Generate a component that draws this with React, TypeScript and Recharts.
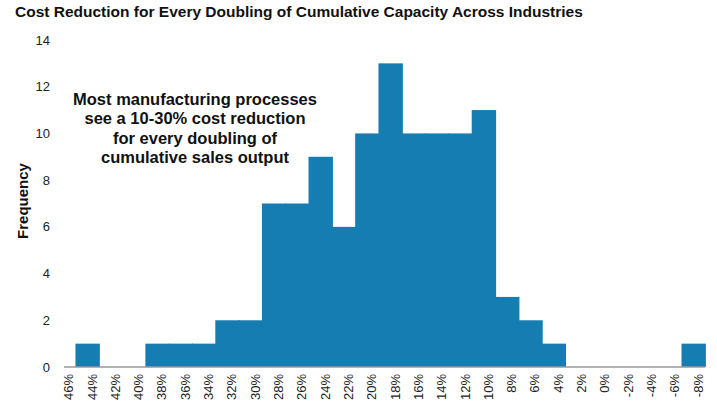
import { BarChart, Bar, XAxis, YAxis } from "recharts";

// bin edges shown on the x axis, highest reduction first
const edgeLabels = [
  "46%", "44%", "42%", "40%", "38%", "36%", "34%", "32%", "30%", "28%",
  "26%", "24%", "22%", "20%", "18%", "16%", "14%", "12%", "10%", "8%",
  "6%", "4%", "2%", "0%", "-2%", "-4%", "-6%", "-8%",
];

// number of industries in each 2% bin (46–44% ... -6–-8%)
const binCounts = [
  1, 0, 0, 1, 1, 1, 2, 2, 7, 7, 9, 6, 10, 13, 10, 10, 10, 11, 3, 2, 1, 0, 0, 0,
  0, 0, 1,
];

const yTicks = [0, 2, 4, 6, 8, 10, 12, 14];

const noteLines = [
  "Most manufacturing processes",
  "see a 10-30% cost reduction",
  "for every doubling of",
  "cumulative sales output",
];

const data = binCounts.map((count, i) => ({
  bin: `${edgeLabels[i]} to ${edgeLabels[i + 1]}`,
  count,
}));

const FONT = "'Liberation Sans', Arial, Helvetica, sans-serif";
const BLUE = "#167DB2";

function edgeText(x: number, y: number, label: string) {
  return (
    <text
      key={label}
      x={x}
      y={y}
      transform={`rotate(-90, ${x}, ${y})`}
      textAnchor="end"
      dy={-2.4}
      fontSize={13}
      fontFamily={FONT}
      fill="#222"
    >
      {label}
    </text>
  );
}

// each bin tick carries the label of its left edge; the last one also the right edge
function EdgeTick(props: any) {
  const { x, y, index, payload } = props;
  const half = payload?.offset ?? 11.65;
  return (
    <g>
      {edgeText(x - half, y, edgeLabels[index])}
      {index === binCounts.length - 1 &&
        edgeText(x + half, y, edgeLabels[index + 1])}
    </g>
  );
}

// histogram bars touch: fill the whole band so no seam shows
function HistBar(props: any) {
  const { x, y, width, height, background } = props;
  if (!height) return null;
  const w = Math.max(width, background?.width ?? width) + 1.4;
  return <rect x={x - 0.2} y={y} width={w} height={height} fill={BLUE} />;
}

export default function App() {
  return (
    <div
      style={{
        position: "absolute",
        left: 0,
        top: 0,
        width: 717,
        height: 410,
        background: "#fff",
        fontFamily: FONT,
      }}
    >
      <BarChart
        width={717}
        height={410}
        data={data}
        barCategoryGap={0}
        margin={{ top: 40, right: 12, left: 0, bottom: 0 }}
      >
        <XAxis
          dataKey="bin"
          interval={0}
          height={43}
          padding={{ left: 11.65, right: 0 }}
          tickLine={false}
          tickSize={0}
          tickMargin={7}
          axisLine={{ stroke: "#999", strokeWidth: 1.5 }}
          tick={<EdgeTick />}
        />
        <YAxis
          width={64}
          domain={[0, 14]}
          ticks={yTicks}
          interval={0}
          axisLine={false}
          tickLine={false}
          tickSize={0}
          tickMargin={14}
          tick={{ fontSize: 13, fill: "#222", fontFamily: FONT }}
        />
        <Bar
          dataKey="count"
          fill={BLUE}
          shape={<HistBar />}
          isAnimationActive={false}
        />
      </BarChart>

      <div
        style={{
          position: "absolute",
          left: 15,
          top: 4,
          fontSize: 15.5,
          lineHeight: "15.5px",
          fontWeight: "bold",
          color: "#111",
          whiteSpace: "nowrap",
        }}
      >
        Cost Reduction for Every Doubling of Cumulative Capacity Across Industries
      </div>

      <div
        style={{
          position: "absolute",
          left: 22,
          top: 201,
          transform: "translate(-50%, -50%) rotate(-90deg)",
          fontSize: 15,
          lineHeight: "15px",
          fontWeight: "bold",
          color: "#111",
          whiteSpace: "nowrap",
        }}
      >
        Frequency
      </div>

      <div
        style={{
          position: "absolute",
          left: 45,
          top: 89.5,
          width: 300,
          textAlign: "center",
          fontSize: 16.5,
          lineHeight: "19.5px",
          fontWeight: "bold",
          color: "#111",
        }}
      >
        {noteLines.map((line) => (
          <div key={line}>{line}</div>
        ))}
      </div>
    </div>
  );
}
